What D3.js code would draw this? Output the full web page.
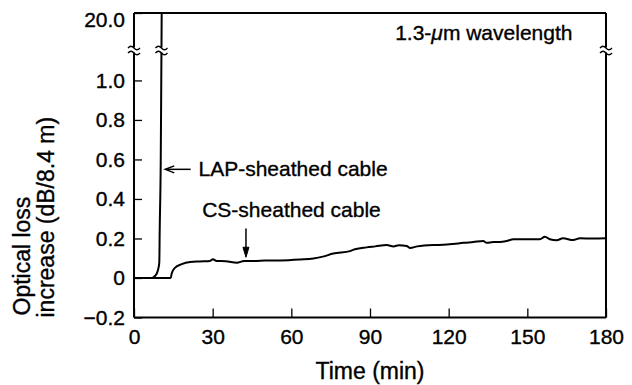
<!DOCTYPE html>
<html>
<head>
<meta charset="utf-8">
<script src="https://cdn.jsdelivr.net/npm/d3@7"></script>
<style>
  html, body { margin: 0; padding: 0; background: #fff; }
  svg { display: block; font-family: "Liberation Sans", Arial, Helvetica, sans-serif; }
  svg text { stroke: #000; stroke-width: 0.35px; }
</style>
</head>
<body>
<svg id="chart" width="632" height="385"></svg>
<script>
// ---- data ----
const xTicks = [0, 30, 60, 90, 120, 150, 180];
const yTicks = [-0.2, 0, 0.2, 0.4, 0.6, 0.8, 1.0, 20];

// LAP-sheathed cable (time in min, loss in dB/8.4 m)
const lapTime = [0, 6.75, 8.0, 8.9, 9.4, 9.65, 9.8, 10.2, 10.4, 10.56];
const lapLoss = [0, 0, 0.01, 0.03, 0.055, 0.08, 0.24, 0.6, 1.0, 20];

// CS-sheathed cable
const csTime = [0, 14.0, 14.4, 15.6, 18.2, 21.4, 25.0, 29.0, 30.1, 31.5, 35.0, 39.2, 42.0, 45.4, 50.0, 56.0,
  63.3, 68.4, 72.0, 76.0, 82.4, 83.5, 88.7, 92.0, 96.4, 99.0, 101.0, 104.0, 105.3, 108.0, 114.2, 118.0,
  121.7, 125.6, 129.4, 133.2, 134.5, 137.0, 139.6, 142.1, 144.7, 150.0, 154.8, 156.7, 158.6, 161.2,
  163.6, 167.5, 170.1, 175.0, 180];
const csLoss = [0, 0, 0.024, 0.051, 0.070, 0.081, 0.084, 0.086, 0.095, 0.086, 0.085, 0.077, 0.086, 0.086, 0.088, 0.089,
  0.094, 0.099, 0.108, 0.124, 0.136, 0.142, 0.155, 0.160, 0.167, 0.160, 0.166, 0.162, 0.152, 0.160, 0.167, 0.168,
  0.172, 0.178, 0.182, 0.187, 0.178, 0.182, 0.182, 0.187, 0.196, 0.196, 0.196, 0.209, 0.196, 0.191,
  0.201, 0.192, 0.201, 0.200, 0.201];

// ---- layout ----
const svg = d3.select("#chart");
const mLeft = 134, mRight = 606, mTop = 13, mBottom = 317.5;
const breakY = 50;

const x = d3.scaleLinear().domain([0, 180]).range([mLeft, mRight]);
const y = d3.scaleLinear().domain([-0.2, 1.154, 20]).range([mBottom, breakY, mTop]);

const fmt = v => v === 20 ? "20.0" : v === 0 ? "0" : (v < 0 ? "\u2212" + Math.abs(v).toFixed(1) : v.toFixed(1));

const FS = 21, TS = 23;

// frame
const frame = svg.append("g").attr("stroke", "#000").attr("stroke-width", 2).attr("fill", "none");
frame.append("line").attr("x1", mLeft).attr("x2", mRight).attr("y1", mTop).attr("y2", mTop);
frame.append("line").attr("x1", mLeft).attr("x2", mRight).attr("y1", mBottom).attr("y2", mBottom);
frame.append("line").attr("x1", mLeft).attr("x2", mLeft).attr("y1", mTop).attr("y2", mBottom);
frame.append("line").attr("x1", mRight).attr("x2", mRight).attr("y1", mTop).attr("y2", mBottom);

// axes
const xAxis = d3.axisBottom(x).tickValues(xTicks).tickSizeInner(-9).tickSizeOuter(0).tickPadding(12)
  .tickFormat(d3.format("d"));
const gx = svg.append("g").attr("transform", `translate(0,${mBottom})`).call(xAxis);
gx.select(".domain").remove();
gx.selectAll("line").attr("stroke", "#000").attr("stroke-width", 1.3);
gx.selectAll("text").attr("font-size", FS).attr("fill", "#000");
gx.attr("font-family", null).attr("font-size", null);

const yAxis = d3.axisLeft(y).tickValues(yTicks).tickSizeInner(-8).tickSizeOuter(0).tickPadding(9)
  .tickFormat(fmt);
const gy = svg.append("g").attr("transform", `translate(${mLeft},0)`).call(yAxis);
gy.select(".domain").remove();
gy.selectAll("line").attr("stroke", "#000").attr("stroke-width", 1.3);
gy.selectAll("text").attr("font-size", FS).attr("fill", "#000");
gy.attr("font-family", null).attr("font-size", null);
gy.selectAll(".tick").filter(d => d === 20).select("text").attr("dy", "0.62em");

// curves
const lineGen = d3.line().x(d => x(d[0])).y(d => y(d[1])).curve(d3.curveMonotoneX);
const lapData = lapTime.map((t, i) => [t, lapLoss[i]]);
const csData = csTime.map((t, i) => [t, csLoss[i]]);

svg.append("path").datum(lapData).attr("d", lineGen)
  .attr("fill", "none").attr("stroke", "#000").attr("stroke-width", 2);
svg.append("path").datum(csData).attr("d", lineGen)
  .attr("fill", "none").attr("stroke", "#000").attr("stroke-width", 2);

// axis breaks (≈ marks)
function brk(cx) {
  const g = svg.append("g");
  g.append("rect").attr("x", cx - 4).attr("y", breakY - 2.5).attr("width", 8).attr("height", 5).attr("fill", "#fff");
  [-2.5, 2.5].forEach(d => {
    g.append("path")
      .attr("d", `M${cx - 6},${breakY + d + 0.5} q3,-3.5 6,0 t6,0`)
      .attr("fill", "none").attr("stroke", "#000").attr("stroke-width", 1.3);
  });
}
brk(mLeft);
brk(x(10.48));
brk(mRight);

// annotations
const ann = svg.append("g").attr("font-size", FS).attr("fill", "#000");
// LAP arrow
const lapArrowY = y(0.55);
const ax0 = x(10.4) + 4, ax1 = x(21.6);
ann.append("line").attr("x1", ax0 + 2).attr("x2", ax1).attr("y1", lapArrowY).attr("y2", lapArrowY)
  .attr("stroke", "#000").attr("stroke-width", 1.5);
ann.append("path").attr("d", `M${ax0 + 9},${lapArrowY - 3.5} L${ax0},${lapArrowY} L${ax0 + 9},${lapArrowY + 3.5}`)
  .attr("fill", "none").attr("stroke", "#000").attr("stroke-width", 1.5);
ann.append("text").attr("x", x(24.6)).attr("y", lapArrowY + 7).text("LAP-sheathed cable");

// CS arrow
const csX = x(42.7);
const csTip = y(0.105), csTail = y(0.25);
ann.append("line").attr("x1", csX).attr("x2", csX).attr("y1", csTail).attr("y2", csTip - 4)
  .attr("stroke", "#000").attr("stroke-width", 1.5);
ann.append("path").attr("d", `M${csX - 3},${csTip - 10} L${csX},${csTip} L${csX + 3},${csTip - 10} Z`)
  .attr("fill", "#000").attr("stroke", "#000").attr("stroke-width", 1);
ann.append("text").attr("x", x(26.0)).attr("y", y(0.31)).text("CS-sheathed cable");

// wavelength label
const wl = ann.append("text").attr("x", x(99.6)).attr("y", 40);
wl.append("tspan").text("1.3-");
wl.append("tspan").attr("font-style", "italic").text("\u03bc");
wl.append("tspan").text("m wavelength");

// axis titles
svg.append("text").attr("x", (mLeft + mRight) / 2).attr("y", 379).attr("text-anchor", "middle")
  .attr("font-size", TS).text("Time (min)");
const yt = svg.append("g").attr("font-size", TS);
yt.append("text").attr("transform", `translate(30,${mBottom - 2}) rotate(-90)`).text("Optical loss");
yt.append("text").attr("transform", `translate(54,${mBottom}) rotate(-90)`).text("increase (dB/8.4 m)");
</script>
</body>
</html>
